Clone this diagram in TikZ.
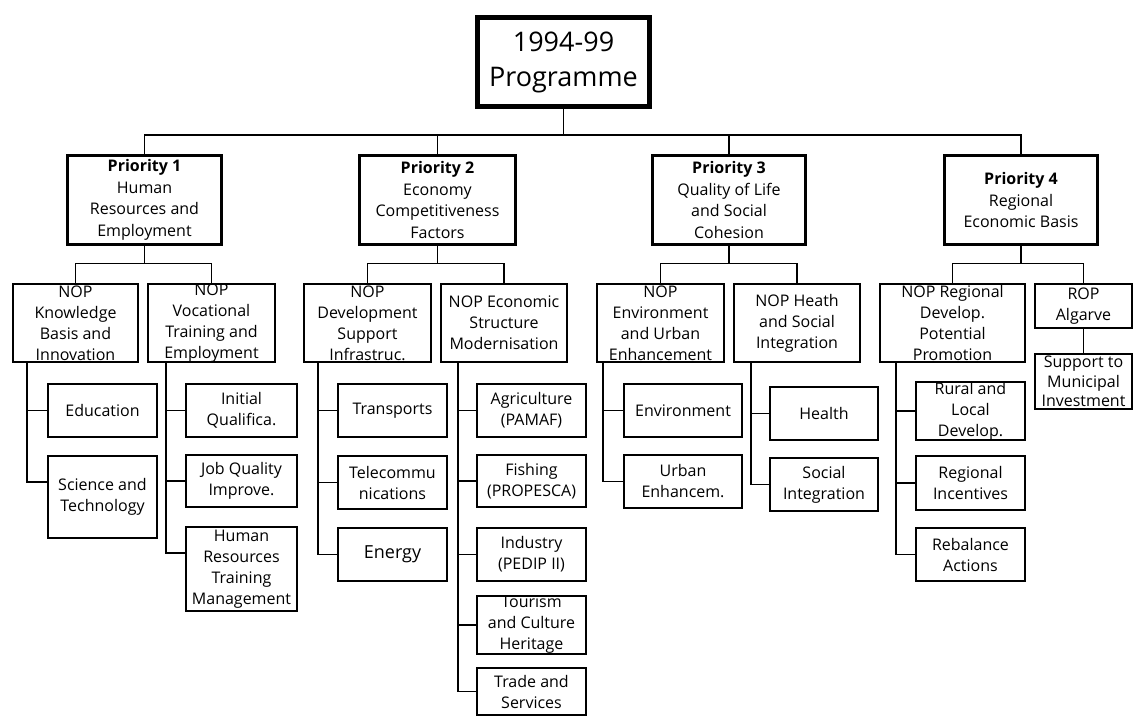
\documentclass[tikz,border=0pt]{standalone}
\usepackage{fontspec}
\setmainfont{Open Sans}
\begin{document}
\begin{tikzpicture}[x=1pt,y=-1pt,
  every node/.style={inner sep=0pt, align=center},
  box/.style={draw, line width=1.8pt, fill=white, font=\fontsize{16}{21}\selectfont},
  prio/.style={box, line width=3.5pt, font=\fontsize{16}{21.5}\selectfont},
  root/.style={draw, line width=5pt, fill=white, font=\fontsize{27}{35}\selectfont},
  leaf/.style={box, minimum width=109pt, minimum height=53pt},
  nop/.style={box, minimum height=78pt},
  tight/.style={font=\fontsize{16}{19.5}\selectfont},
  link/.style={line width=1.5pt}]
\path[use as bounding box] (0,0) rectangle (1135,717);

% programme root
\node[root, minimum width=172pt, minimum height=89pt] (top) at (563.5,62) {1994-99\\Programme};

% priorities
\node[prio, minimum width=154pt, minimum height=89pt] (p1) at (144.5,200) {\textbf{Priority 1}\\Human\\Resources and\\Employment};
\node[prio, minimum width=156pt, minimum height=89pt] (p2) at (437.5,200) {\textbf{Priority 2}\\Economy\\Competitiveness\\Factors};
\node[prio, minimum width=153pt, minimum height=89pt] (p3) at (729,200) {\textbf{Priority 3}\\Quality of Life\\and Social\\Cohesion};
\node[prio, minimum width=153pt, minimum height=89pt] (p4) at (1021,200) {\textbf{Priority 4}\\Regional\\Economic Basis};

% operational programmes
\node[nop, minimum width=125pt] (k) at (75.5,323) {NOP\\Knowledge\\Basis and\\Innovation};
\node[nop, minimum width=127pt] (v) at (211.5,323) {NOP\\Vocational\\Training and\\Employment};
\node[nop, minimum width=127pt] (d) at (367.5,323) {NOP\\Development\\Support\\Infrastruc.};
\node[nop, minimum width=126pt] (e) at (504,323) {NOP Economic\\Structure\\Modernisation};
\node[nop, minimum width=127pt] (envn) at (660.5,323) {NOP\\Environment\\and Urban\\Enhancement};
\node[nop, minimum width=126pt] (h) at (797,323) {NOP Heath\\and Social\\Integration};
\node[nop, minimum width=145pt] (r) at (952.5,323) {NOP Regional\\Develop.\\Potential\\Promotion};
\node[box, minimum width=97pt, minimum height=44pt] (rop) at (1083.5,306) {ROP\\Algarve};
\node[box, tight, minimum width=97pt, minimum height=55pt] (sup) at (1083.5,381.5) {Support to\\Municipal\\Investment};

% measures
\node[leaf] (edu) at (102.5,410.5) {Education};
\node[leaf, minimum height=82pt] (sci) at (102.5,497) {Science and\\Technology};
\node[leaf, minimum width=111pt] (iq) at (241.5,410.5) {Initial\\Qualifica.};
\node[leaf, minimum width=111pt, minimum height=52pt] (jq) at (241.5,481) {Job Quality\\Improve.};
\node[leaf, minimum width=111pt, minimum height=84pt] (hr) at (241.5,569) {Human\\Resources\\Training\\Management};
\node[leaf] (tr) at (392.5,410.5) {Transports};
\node[leaf] (tc) at (392.5,482.5) {Telecommu\\nications};
\node[leaf, font=\fontsize{18}{22}\selectfont] (nrg) at (392.5,554.5) {Energy};
\node[leaf] (ag) at (531.5,410.5) {Agriculture\\(PAMAF)};
\node[leaf, minimum height=52pt] (fi) at (531.5,481) {Fishing\\(PROPESCA)};
\node[leaf] (ind) at (531.5,554.5) {Industry\\(PEDIP II)};
\node[leaf, minimum height=54pt] (tou) at (531.5,625) {Tourism\\and Culture\\Heritage};
\node[leaf, minimum height=47pt] (trd) at (531.5,691.5) {Trade and\\Services};
\node[leaf, minimum width=118pt] (env) at (683,410.5) {Environment};
\node[leaf, minimum width=118pt] (urb) at (683,481.5) {Urban\\Enhancem.};
\node[leaf, minimum width=108pt] (hea) at (824,413.5) {Health};
\node[leaf, minimum width=108pt] (soc) at (824,484.5) {Social\\Integration};
\node[leaf, minimum height=54pt] (rur) at (970.5,411) {Rural and\\Local\\Develop.};
\node[leaf, minimum height=54pt] (ri) at (970.5,483) {Regional\\Incentives};
\node[leaf] (reb) at (970.5,554.5) {Rebalance\\Actions};

% root to priorities
\draw[link] (top.south) -- ++(0,26) coordinate (tj);
\draw[link] (p1.north) |- (tj) -| (p4.north);
\draw[link] (p2.north) |- (tj);
\draw[link] (p3.north) |- (tj);

% priorities to programmes
\draw[link] (p1.south) -- ++(0,17) coordinate (j1);
\draw[link] (k.north) |- (j1) -| (v.north);
\draw[link] (p2.south) -- ++(0,17) coordinate (j2);
\draw[link] (d.north) |- (j2) -| (e.north);
\draw[link] (p3.south) -- ++(0,17) coordinate (j3);
\draw[link] (envn.north) |- (j3) -| (h.north);
\draw[link] (p4.south) -- ++(0,17) coordinate (j4);
\draw[link] (r.north) |- (j4) -| (rop.north);
\draw[link] (rop.south) -- (sup.north);

% spines from programmes to measures
\coordinate (ks) at ([xshift=15pt]k.south west);
\coordinate (vs) at ([xshift=19pt]v.south west);
\coordinate (ds) at ([xshift=15pt]d.south west);
\coordinate (es) at ([xshift=18pt]e.south west);
\coordinate (ens) at ([xshift=7pt]envn.south west);
\coordinate (hs) at ([xshift=18pt]h.south west);
\coordinate (rs) at ([xshift=17pt]r.south west);

\draw[link] (ks) |- (edu.west);
\draw[link] (ks) |- ([yshift=15pt]sci.west);
\draw[link] (vs) |- (iq.west);
\draw[link] (vs) |- (jq.west);
\draw[link] (vs) |- ([yshift=16pt]hr.west);
\draw[link] (ds) |- (tr.west);
\draw[link] (ds) |- (tc.west);
\draw[link] (ds) |- (nrg.west);
\draw[link] (es) |- (ag.west);
\draw[link] (es) |- (fi.west);
\draw[link] (es) |- (ind.west);
\draw[link] (es) |- (tou.west);
\draw[link] (es) |- (trd.west);
\draw[link] (ens) |- (env.west);
\draw[link] (ens) |- (urb.west);
\draw[link] (hs) |- (hea.west);
\draw[link] (hs) |- (soc.west);
\draw[link] (rs) |- (rur.west);
\draw[link] (rs) |- (ri.west);
\draw[link] (rs) |- (reb.west);
\end{tikzpicture}
\end{document}
